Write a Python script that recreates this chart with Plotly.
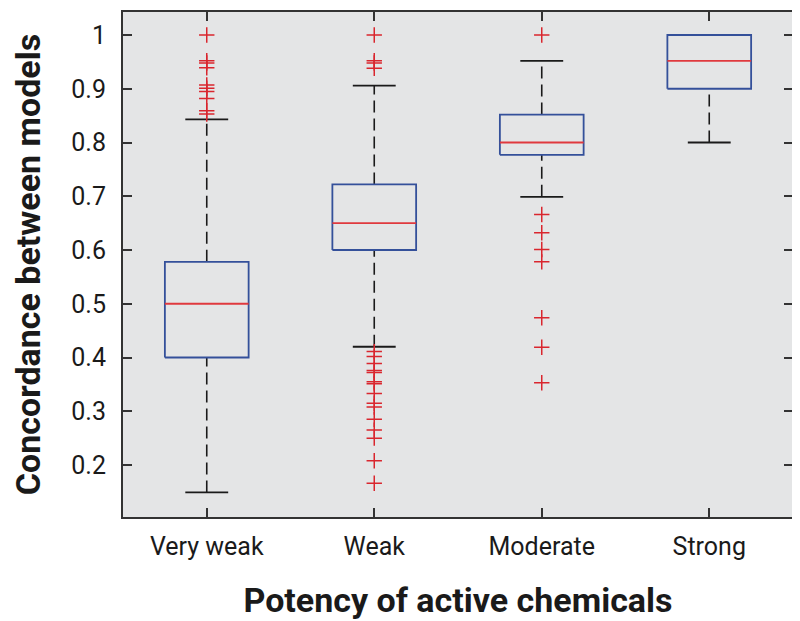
import plotly.graph_objects as go

categories = ["Very weak", "Weak", "Moderate", "Strong"]
q1 = [0.400, 0.600, 0.777, 0.900]
median = [0.500, 0.650, 0.800, 0.952]
q3 = [0.578, 0.722, 0.852, 1.000]
lower_whisker = [0.149, 0.420, 0.699, 0.800]
upper_whisker = [0.843, 0.906, 0.952, 1.000]
outliers = [
    [1.0, 0.952, 0.948, 0.939, 0.907, 0.901, 0.895, 0.882, 0.859, 0.853],
    [1.0, 0.952, 0.948, 0.938, 0.411, 0.402, 0.389, 0.376, 0.372, 0.355, 0.351,
     0.333, 0.315, 0.308, 0.285, 0.265, 0.250, 0.208, 0.166],
    [1.0, 0.666, 0.632, 0.601, 0.578, 0.474, 0.419, 0.353],
    [],
]
yticks = [0.2, 0.3, 0.4, 0.5, 0.6, 0.7, 0.8, 0.9, 1]
ytick_text = ["0.2", "0.3", "0.4", "0.5", "0.6", "0.7", "0.8", "0.9", "1"]

pos = [i + 1 for i in range(len(categories))]
BOX_HW = 0.25
CAP_HW = 0.128

FONT = "Roboto, Liberation Sans Narrow, Arial Narrow, sans-serif"

fig = go.Figure()

# whiskers (dashed)
wx, wy = [], []
for p, a, b, c, d in zip(pos, lower_whisker, q1, q3, upper_whisker):
    wx += [p, p, None, p, p, None]
    wy += [a, b, None, c, d, None]
fig.add_trace(go.Scatter(x=wx, y=wy, mode="lines",
                         line=dict(color="#1a1a1a", width=1.6, dash="12px,6px"),
                         hoverinfo="skip", showlegend=False))

# caps
cx, cy = [], []
for p, a, d in zip(pos, lower_whisker, upper_whisker):
    cx += [p - CAP_HW, p + CAP_HW, None, p - CAP_HW, p + CAP_HW, None]
    cy += [a, a, None, d, d, None]
fig.add_trace(go.Scatter(x=cx, y=cy, mode="lines",
                         line=dict(color="#1a1a1a", width=1.8),
                         hoverinfo="skip", showlegend=False))

# boxes
bx, by = [], []
for p, a, b in zip(pos, q1, q3):
    bx += [p - BOX_HW, p + BOX_HW, p + BOX_HW, p - BOX_HW, p - BOX_HW, None]
    by += [a, a, b, b, a, None]
fig.add_trace(go.Scatter(x=bx, y=by, mode="lines",
                         line=dict(color="#34509a", width=1.8),
                         hoverinfo="skip", showlegend=False))

# medians
mx, my = [], []
for p, m in zip(pos, median):
    mx += [p - BOX_HW, p + BOX_HW, None]
    my += [m, m, None]
fig.add_trace(go.Scatter(x=mx, y=my, mode="lines",
                         line=dict(color="#e0393e", width=1.8),
                         hoverinfo="skip", showlegend=False))

# outliers
ox, oy = [], []
for p, outs in zip(pos, outliers):
    for v in outs:
        ox.append(p)
        oy.append(v)
fig.add_trace(go.Scatter(x=ox, y=oy, mode="markers",
                         marker=dict(symbol="cross-thin", size=11,
                                     line=dict(color="#d9262e", width=1.5)),
                         hoverinfo="skip", showlegend=False))

fig.update_layout(
    width=792, height=613,
    margin=dict(l=115, r=7, t=4, b=104, autoexpand=False),
    paper_bgcolor="white",
    plot_bgcolor="#e4e5e6",
    font=dict(family=FONT, size=25, color="#1a1a1a"),
    xaxis=dict(
        range=[0.5, 4.5], tickvals=pos, ticktext=categories,
        ticks="inside", ticklen=9, tickwidth=1.5, tickcolor="#333",
        showline=True, linecolor="#333", linewidth=2, mirror="allticks",
        showgrid=False, zeroline=False, automargin=False,
        ticklabelstandoff=6,
        tickfont=dict(family=FONT, size=25),
        title=dict(text="<b>Potency of active chemicals</b>",
                   font=dict(family=FONT, size=34), standoff=28),
    ),
    yaxis=dict(
        range=[0.1033, 1.0428], tickvals=yticks, ticktext=ytick_text,
        ticks="inside", ticklen=9, tickwidth=1.5, tickcolor="#333",
        showline=True, linecolor="#333", linewidth=2, mirror="allticks",
        showgrid=False, zeroline=False, automargin=False,
        ticklabelstandoff=10,
        tickfont=dict(family=FONT, size=25),
        title=dict(text="<b>Concordance between models</b>",
                   font=dict(family=FONT, size=34), standoff=32),
    ),
)

fig.write_html("out.html")
